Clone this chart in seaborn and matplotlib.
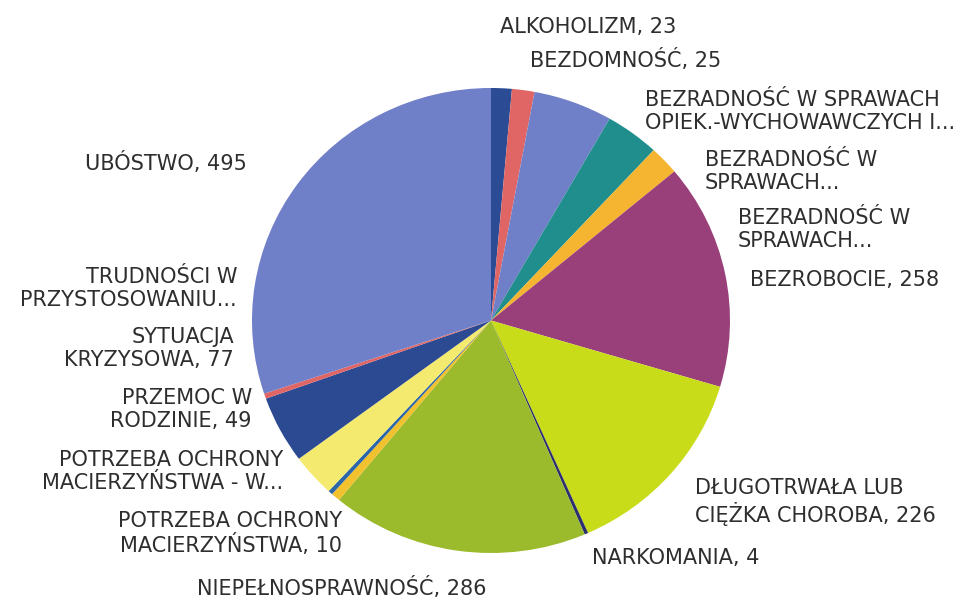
import matplotlib
matplotlib.use("Agg")
import matplotlib.pyplot as plt
import seaborn as sns

sns.set_theme(style="white")
plt.rcParams['font.family'] = ['DejaVu Sans']

# ---- data ----
categories = [
    "ALKOHOLIZM", "BEZDOMNOŚĆ",
    "BEZRADNOŚĆ W SPRAWACH\nOPIEK.-WYCHOWAWCZYCH I...",
    "BEZRADNOŚĆ W\nSPRAWACH...", "BEZRADNOŚĆ W\nSPRAWACH...",
    "BEZROBOCIE", "DŁUGOTRWAŁA LUB\nCIĘŻKA CHOROBA", "NARKOMANIA",
    "NIEPEŁNOSPRAWNOŚĆ", "POTRZEBA OCHRONY\nMACIERZYŃSTWA",
    "POTRZEBA OCHRONY\nMACIERZYŃSTWA - W...", "PRZEMOC W\nRODZINIE",
    "SYTUACJA\nKRYZYSOWA", "TRUDNOŚCI W\nPRZYSTOSOWANIU...", "UBÓSTWO",
]
values = [23, 25, 88, 60, 33, 258, 226, 4, 286, 10, 5, 49, 77, 6, 495]
show_value = [True, True, False, False, False, True, True, True, True, True,
              False, True, True, False, True]
colors = ["#2B4C94", "#E06666", "#7080C8", "#218E8E", "#F6B530", "#99407A",
          "#C9DC1A", "#2C2F6E", "#9CBB2C", "#F2C12E", "#2A66A8", "#F5EA70",
          "#2C4A92", "#E06666", "#6F7FC8"]

# label anchor positions in pixels (x, y-centre of first line) and alignment
label_pos = [(500, 27, "left"), (530, 60, "left"), (645, 100, "left"),
             (705, 160, "left"), (738, 218, "left"), (750, 280, "left"),
             (695, 490, "left"), (592, 558, "left"), (342, 588, "center"),
             (342, 522, "right"), (283, 460, "right"), (252, 398, "right"),
             (234, 337, "right"), (237, 277, "right"), (247, 163, "right")]
LINE_PX = 23

W, H = 977, 599
fig = plt.figure(figsize=(W / 100, H / 100), dpi=100)
fig.patch.set_facecolor("white")

# pie axes (slightly elliptical as in reference)
ax = fig.add_axes([252 / W, (H - 553) / H, 478 / W, 465 / H])
ax.pie(values, colors=colors, startangle=90, counterclock=False,
       wedgeprops=dict(linewidth=0), radius=1.0)
ax.set_aspect("auto")
ax.set_xlim(-1, 1)
ax.set_ylim(-1, 1)
ax.axis("off")

for cat, val, sv, (px, py, ha) in zip(categories, values, show_value, label_pos):
    txt = f"{cat}, {val}" if sv else cat
    n = txt.count("\n") + 1
    yc = py + (n - 1) * LINE_PX / 2
    fig.text(px / W, 1 - yc / H, txt, ha=ha, va="center", multialignment=ha,
             fontsize=15, color="#2E2E2E", linespacing=1.2)

fig.savefig("out.png", dpi=100, facecolor="white")
